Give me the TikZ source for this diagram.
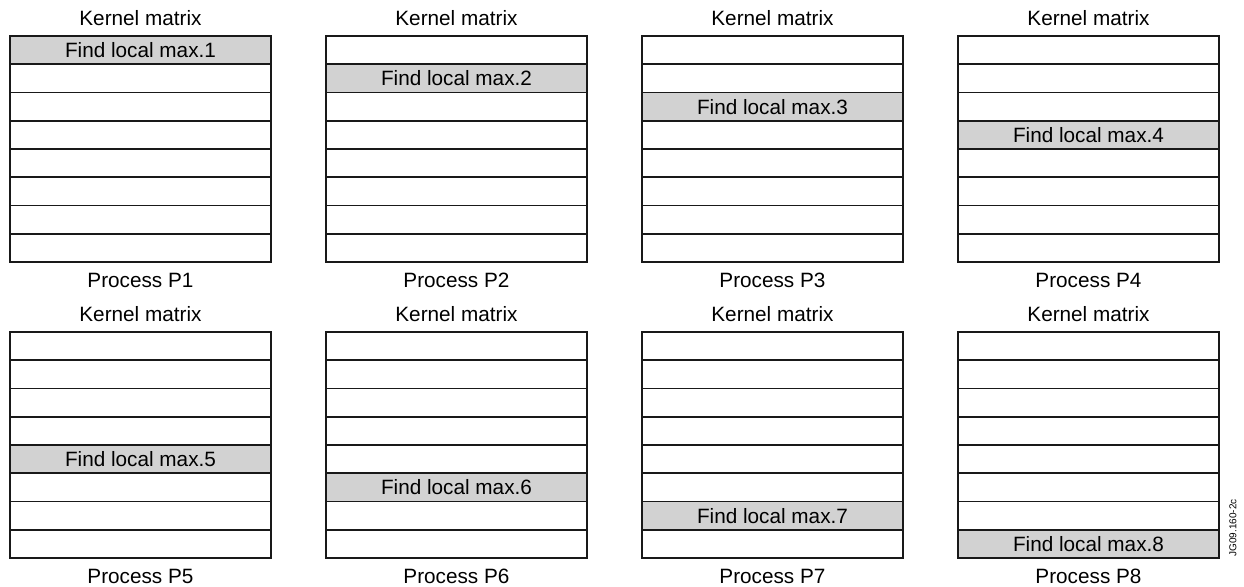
\documentclass[tikz,border=0pt]{standalone}
\usepackage{fontspec}
\setmainfont{Liberation Sans}
\usetikzlibrary{positioning}
\definecolor{cellgray}{RGB}{210,210,210}

\begin{document}
\begin{tikzpicture}[
x=0.02cm,y=-0.02cm,
cell/.style={
	draw=black!90,
	line width=0.9pt,
	rectangle,
	anchor=north west,
	minimum width=5.22cm,
	minimum height=0.565cm,
	inner sep=0pt,
	outer sep=0pt,
	font=\fontsize{11.8}{13}\selectfont
},
hlcell/.style={
	cell,
	fill=cellgray
},
caption/.style={
	inner sep=0pt,
	font=\fontsize{11.8}{13}\selectfont
}
]
\useasboundingbox (0,0) rectangle (1244,587);

\foreach \p in {1,...,8}{
	\pgfmathtruncatemacro\col{mod(\p-1,4)}
	\pgfmathtruncatemacro\row{int((\p-1)/4)}
	\pgfmathsetmacro\xl{10+316*\col}
	\pgfmathsetmacro\yt{36+296*\row}
	\foreach \k in {0,...,7}{
		\ifnum\k=\numexpr\p-1\relax
			\node[hlcell] (c\p-\k) at (\xl,\yt+28.25*\k) {Find local max.\p};
		\else
			\node[cell] (c\p-\k) at (\xl,\yt+28.25*\k) {};
		\fi
	}
	\node[caption,above=0.19cm of c\p-0] (t\p) {Kernel matrix};
	\node[caption,below=0.22cm of c\p-7] (p\p) {Process P\p};
}

\node[rotate=90,anchor=west,inner sep=0pt,font=\fontsize{5.7}{6}\selectfont] (code) at (1233,557) {JG09.160-2c};

\end{tikzpicture}
\end{document}
